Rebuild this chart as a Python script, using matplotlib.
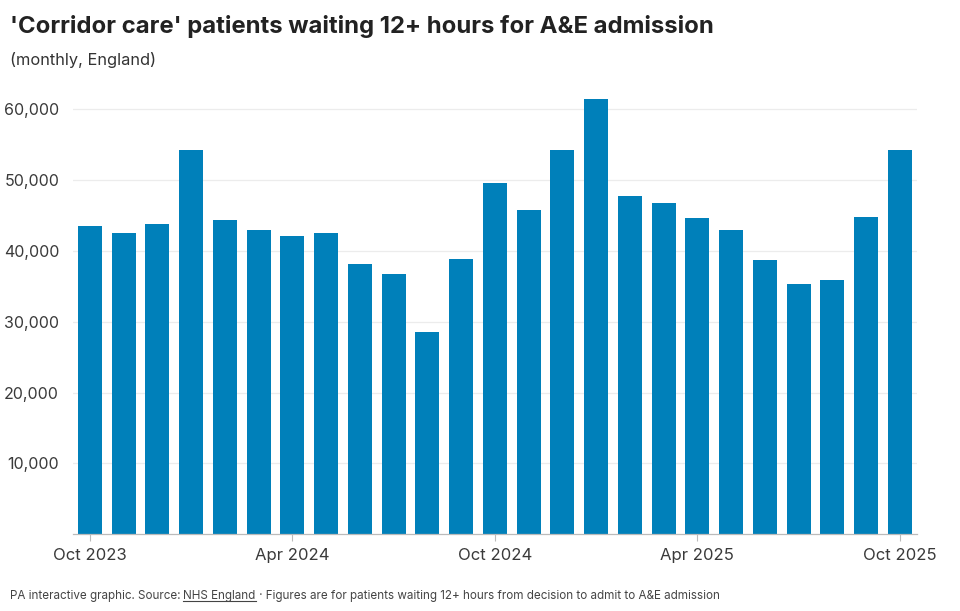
import matplotlib
matplotlib.use("Agg")
import matplotlib.pyplot as plt
from matplotlib.ticker import FuncFormatter

# mois, d'octobre 2023 à octobre 2025
months = ["Oct 2023", "Nov 2023", "Dec 2023", "Jan 2024", "Feb 2024", "Mar 2024",
          "Apr 2024", "May 2024", "Jun 2024", "Jul 2024", "Aug 2024", "Sep 2024",
          "Oct 2024", "Nov 2024", "Dec 2024", "Jan 2025", "Feb 2025", "Mar 2025",
          "Apr 2025", "May 2025", "Jun 2025", "Jul 2025", "Aug 2025", "Sep 2025",
          "Oct 2025"]
patients = [43500, 42500, 43800, 54300, 44400, 43000,
            42100, 42500, 38100, 36800, 28500, 38900,
            49600, 45800, 54200, 61500, 47700, 46800,
            44700, 42900, 38700, 35400, 35900, 44800,
            54300]
tick_labels = ["Oct 2023", "Apr 2024", "Oct 2024", "Apr 2025", "Oct 2025"]
y_ticks = [10000, 20000, 30000, 40000, 50000, 60000]

plt.rcParams['font.family'] = ['Inter', 'DejaVu Sans']

fig = plt.figure(figsize=(9.6, 6.11), dpi=100)
ax = fig.add_axes([0.076, 0.1255, 0.879, 0.7245])

x = list(range(len(months)))
ax.bar(x, patients, width=0.71, color="#0080ba", zorder=2)

ax.set_xlim(-0.5, len(months) - 0.5)
ax.set_ylim(0, 62500)
ax.set_yticks(y_ticks)
ax.yaxis.set_major_formatter(FuncFormatter(lambda v, p: f"{int(v):,}"))
ax.grid(axis="y", color="#ececec", linewidth=0.9, zorder=0)
ax.tick_params(axis="y", length=0, pad=10, labelsize=11.5, labelcolor="#3a3a3a")

ax.set_xticks([months.index(m) for m in tick_labels])
ax.set_xticklabels(tick_labels)
ax.tick_params(axis="x", length=5, color="#bbbbbb", pad=5, labelsize=12, labelcolor="#3a3a3a")

for side in ["top", "right", "left"]:
    ax.spines[side].set_visible(False)
ax.spines["bottom"].set_color("#bbbbbb")
ax.spines["bottom"].set_linewidth(0.9)

# titre et sous-titre
fig.text(0.010, 0.956, "'Corridor care' patients waiting 12+ hours for A&E admission",
         fontsize=17.2, fontweight="bold", color="#222222", va="center")
fig.text(0.010, 0.902, "(monthly, England)", fontsize=11.8, color="#333333", va="center")

# pied de page avec le lien souligné
foot_y = 0.024
foot_size = 8.4
t1 = fig.text(0.010, foot_y, "PA interactive graphic. Source: ", fontsize=foot_size,
              color="#444444", va="center")
fig.canvas.draw()
r = fig.canvas.get_renderer()
bb1 = t1.get_window_extent(r).transformed(fig.transFigure.inverted())
t2 = fig.text(bb1.x1, foot_y, "NHS England", fontsize=foot_size, color="#444444", va="center")
bb2 = t2.get_window_extent(r).transformed(fig.transFigure.inverted())
fig.add_artist(plt.Line2D([bb2.x0, bb2.x1], [bb2.y0 + 0.002, bb2.y0 + 0.002],
                          color="#444444", linewidth=0.8))
fig.text(bb2.x1, foot_y,
         " · Figures are for patients waiting 12+ hours from decision to admit to A&E admission",
         fontsize=foot_size, color="#444444", va="center")

fig.savefig("out.png", dpi=100)
